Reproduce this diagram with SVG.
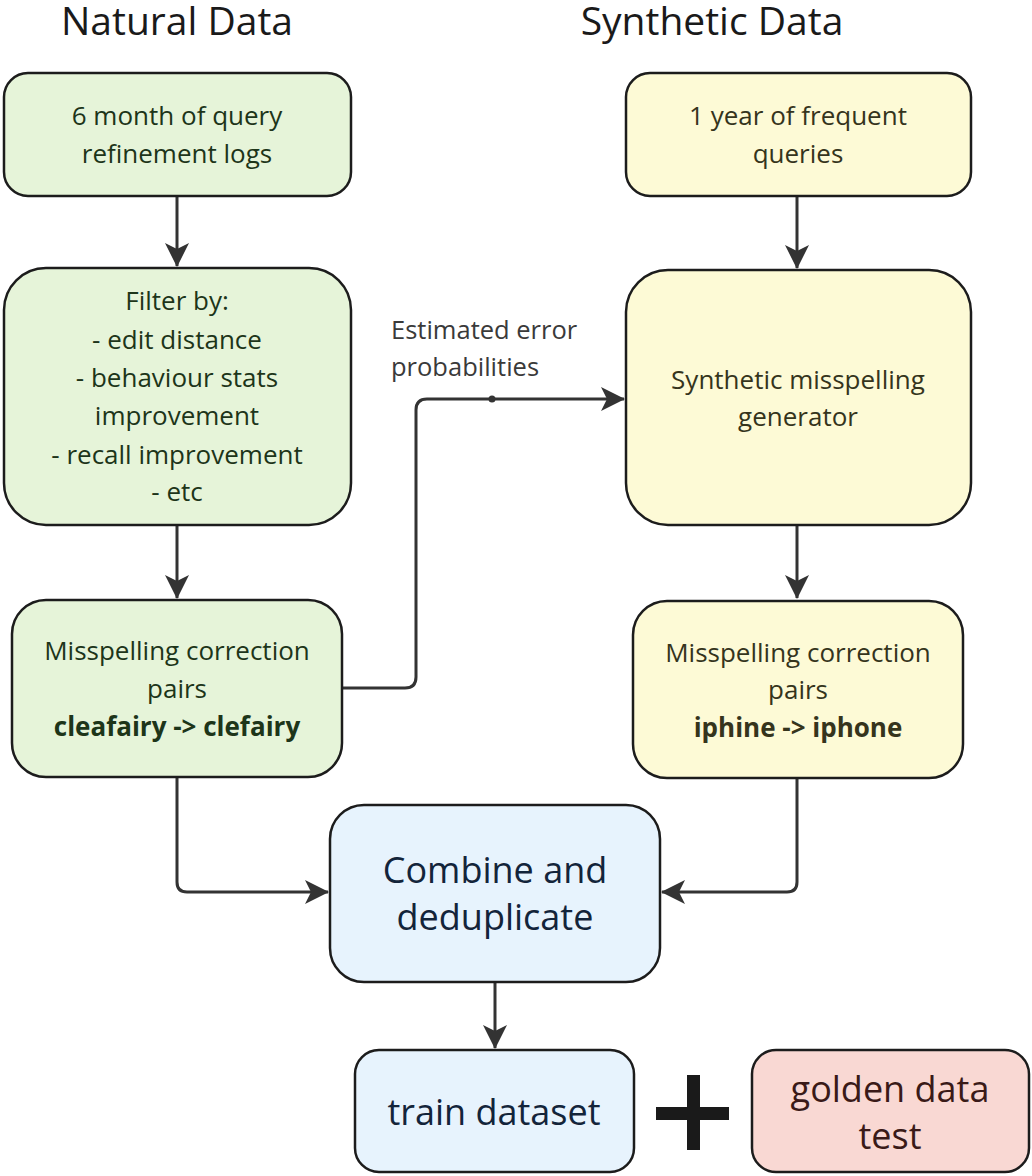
<svg xmlns="http://www.w3.org/2000/svg" width="1032" height="1176" viewBox="0 0 1032 1176">
  <style>
    text { font-family: "Open Sans", "Noto Sans", "DejaVu Sans", sans-serif; text-anchor: middle; }
    .title { font-size: 39px; fill: #1a1a1a; }
    .box { stroke: #1c1c1c; stroke-width: 2.5; }
    .green { fill: #e6f4d9; }
    .yellow { fill: #fdfad6; }
    .blue { fill: #e7f3fd; }
    .red { fill: #f9d8d3; }
    .tg { font-size: 26px; fill: #1d3519; }
    .ty { font-size: 26px; fill: #35341c; }
    .tb { font-size: 36px; fill: #13243a; }
    .tr { font-size: 36px; fill: #3a1a18; }
    .bold { font-weight: bold; }
    .edge { fill: none; stroke: #333333; stroke-width: 3; }
    .label { font-size: 25.5px; fill: #3a3a3a; text-anchor: start; }
  </style>
  <defs>
    <marker id="arrow" viewBox="0 0 24 26" refX="23" refY="13" markerWidth="24" markerHeight="26" markerUnits="userSpaceOnUse" orient="auto">
      <path d="M0,1 L24,13 L0,25 L6,13 z" fill="#333333"/>
    </marker>
  </defs>

  <text class="title" x="177" y="35">Natural Data</text>
  <text class="title" x="712" y="35">Synthetic Data</text>

  <g id="connectors">
    <path class="edge" d="M177,197 V266" marker-end="url(#arrow)"/>
    <path class="edge" d="M177,526 V598" marker-end="url(#arrow)"/>
    <path class="edge" d="M797,197 V268" marker-end="url(#arrow)"/>
    <path class="edge" d="M797,526 V598" marker-end="url(#arrow)"/>
    <path class="edge" d="M343,688 H405 Q416,688 416,677 V410 Q416,399 427,399 H624" marker-end="url(#arrow)"/>
    <circle cx="492" cy="399" r="3.5" fill="#333333"/>
    <path class="edge" d="M177,778 V882 Q177,892 187,892 H328" marker-end="url(#arrow)"/>
    <path class="edge" d="M797,779 V882 Q797,892 787,892 H662" marker-end="url(#arrow)"/>
    <path class="edge" d="M495,983 V1048" marker-end="url(#arrow)"/>
    <text class="label" x="391" y="339">Estimated error</text>
    <text class="label" x="391" y="376">probabilities</text>
  </g>

  <g id="query-logs">
    <rect class="box green" x="4" y="73" width="347" height="123" rx="24"/>
    <text class="tg" x="177" y="125">6 month of query</text>
    <text class="tg" x="177" y="163">refinement logs</text>
  </g>

  <g id="filter">
    <rect class="box green" x="4" y="268" width="347" height="257" rx="42"/>
    <text class="tg" x="177" y="310">Filter by:</text>
    <text class="tg" x="177" y="349">- edit distance</text>
    <text class="tg" x="177" y="387">- behaviour stats</text>
    <text class="tg" x="177" y="425">improvement</text>
    <text class="tg" x="177" y="464">- recall improvement</text>
    <text class="tg" x="177" y="501">- etc</text>
  </g>

  <g id="natural-pairs">
    <rect class="box green" x="12" y="600" width="330" height="177" rx="34"/>
    <text class="tg" x="177" y="660">Misspelling correction</text>
    <text class="tg" x="177" y="698">pairs</text>
    <text class="tg bold" x="177" y="736">cleafairy -&gt; clefairy</text>
  </g>

  <g id="frequent-queries">
    <rect class="box yellow" x="626" y="73" width="345" height="123" rx="24"/>
    <text class="ty" x="798" y="125">1 year of frequent</text>
    <text class="ty" x="798" y="163">queries</text>
  </g>

  <g id="generator">
    <rect class="box yellow" x="626" y="270" width="345" height="255" rx="42"/>
    <text class="ty" x="798" y="389">Synthetic misspelling</text>
    <text class="ty" x="798" y="426">generator</text>
  </g>

  <g id="synthetic-pairs">
    <rect class="box yellow" x="633" y="601" width="330" height="177" rx="34"/>
    <text class="ty" x="798" y="662">Misspelling correction</text>
    <text class="ty" x="798" y="699">pairs</text>
    <text class="ty bold" x="798" y="737">iphine -&gt; iphone</text>
  </g>

  <g id="combine">
    <rect class="box blue" x="330" y="805" width="330" height="177" rx="34"/>
    <text class="tb" x="495" y="883">Combine and</text>
    <text class="tb" x="495" y="930">deduplicate</text>
  </g>

  <g id="train">
    <rect class="box blue" x="355" y="1050" width="279" height="122" rx="24"/>
    <text class="tb" x="494" y="1125">train dataset</text>
  </g>

  <g id="plus">
    <rect x="656" y="1107" width="73" height="13" fill="#1a1a1a"/>
    <rect x="687" y="1075" width="13" height="75" fill="#1a1a1a"/>
  </g>

  <g id="golden">
    <rect class="box red" x="752" y="1050" width="277" height="122" rx="24"/>
    <text class="tr" x="890" y="1102">golden data</text>
    <text class="tr" x="890" y="1149">test</text>
  </g>
</svg>
